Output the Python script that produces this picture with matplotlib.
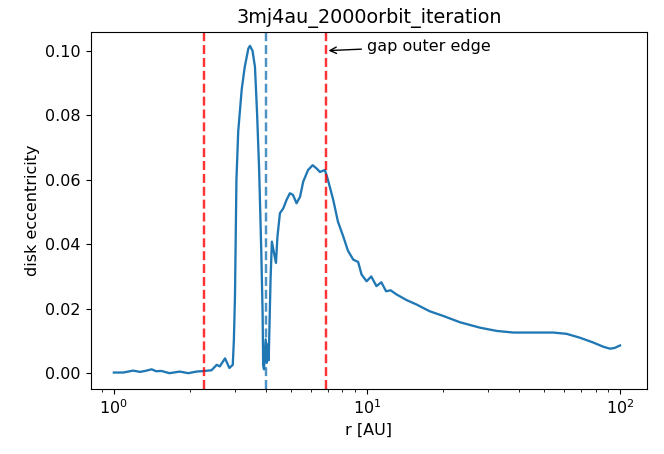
import numpy as np
import matplotlib.pyplot as plt

# radius [AU] and disk eccentricity
r = [1.0, 1.09, 1.19, 1.27, 1.33, 1.41, 1.47, 1.54, 1.66, 1.82, 1.97, 2.12, 2.29,
     2.43, 2.55, 2.62, 2.75, 2.86, 2.95, 2.98, 3.01, 3.05, 3.10, 3.20, 3.29, 3.40,
     3.45, 3.53, 3.61, 3.68, 3.75, 3.82, 3.87, 3.89, 3.92, 3.98, 4.02, 4.07, 4.09,
     4.16, 4.21, 4.30, 4.37, 4.43, 4.53, 4.67, 4.81, 4.96, 5.10, 5.27, 5.44, 5.60,
     5.85, 6.10, 6.32, 6.52, 6.82, 7.01, 7.36, 7.68, 8.06, 8.41, 8.83, 9.23, 9.52,
     9.97, 10.4, 10.9, 11.4, 11.9, 12.4, 13.1, 14.4, 15.7, 17.7, 20.1, 23.3, 28.0,
     32.6, 37.9, 46.8, 54.5, 61.5, 69.4, 78.4, 85.9, 91.3, 95.0, 100.0]
ecc = [0.0002, 0.0002, 0.0008, 0.0004, 0.0007, 0.0012, 0.0006, 0.0007, 0.0000,
       0.0005, 0.0000, 0.0005, 0.0007, 0.0009, 0.0026, 0.0021, 0.0046, 0.0016,
       0.0026, 0.0103, 0.0240, 0.0600, 0.0750, 0.0880, 0.0950, 0.1007, 0.1015,
       0.1000, 0.0950, 0.0806, 0.0630, 0.0390, 0.0187, 0.0023, 0.0012, 0.0105,
       0.0032, 0.0090, 0.0040, 0.0290, 0.0408, 0.0370, 0.0342, 0.0424, 0.0496,
       0.0511, 0.0537, 0.0558, 0.0553, 0.0527, 0.0547, 0.0594, 0.0630, 0.0645,
       0.0635, 0.0624, 0.0630, 0.0600, 0.0537, 0.0470, 0.0424, 0.0380, 0.0352,
       0.0345, 0.0306, 0.0285, 0.0300, 0.0270, 0.0282, 0.0254, 0.0257, 0.0244,
       0.0226, 0.0213, 0.0192, 0.0177, 0.0158, 0.0141, 0.0131, 0.0126, 0.0126,
       0.0126, 0.0122, 0.0110, 0.0095, 0.0082, 0.0076, 0.0078, 0.0086]

gap_inner = 2.28
gap_outer = 6.87
planet = 4.0

plt.rcParams['font.size'] = 11.5

fig = plt.figure(figsize=(6.64, 4.54), dpi=100)
ax = fig.add_axes([0.1366, 0.1432, 0.8378, 0.787])

ax.plot(r, ecc, color='C0', linewidth=1.65)
ax.axvline(gap_inner, color='r', linestyle='--', linewidth=1.75, alpha=0.8)
ax.axvline(gap_outer, color='r', linestyle='--', linewidth=1.75, alpha=0.8)
ax.axvline(planet, color='C0', linestyle='--', linewidth=1.75, alpha=0.8)

ax.annotate('gap outer edge', xy=(gap_outer, 0.1), xytext=(10, 0.1),
            arrowprops=dict(arrowstyle='->', color='k'))

ax.set_xscale('log')
ax.set_xlim(0.81, 127.8)
ax.set_ylim(-0.0049, 0.1059)
ax.set_xlabel('r [AU]')
ax.set_ylabel('disk eccentricity')
ax.set_title('3mj4au_2000orbit_iteration', fontsize=13.8)

fig.savefig('out.png', dpi=100)
